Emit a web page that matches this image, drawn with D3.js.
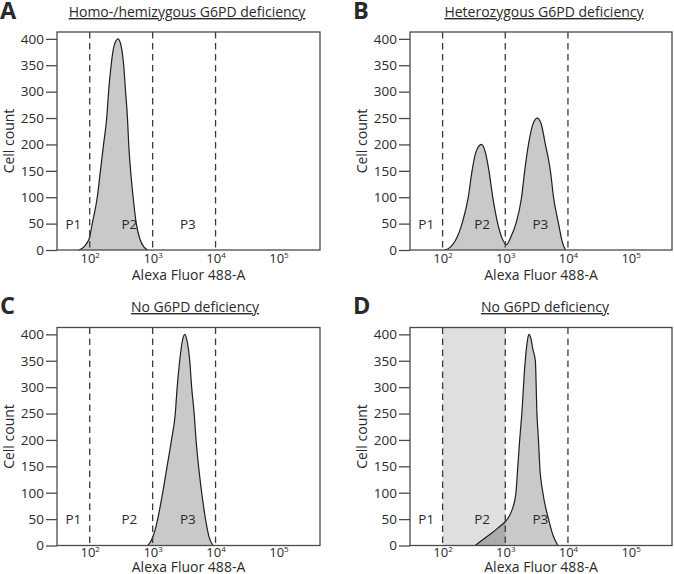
<!DOCTYPE html>
<html>
<head>
<meta charset="utf-8">
<script src="https://cdn.jsdelivr.net/npm/d3@7"></script>
<style>
  html, body { margin: 0; padding: 0; background: #fff; }
  svg { display: block; }
  text { font-family: "Open Sans", "Noto Sans", sans-serif; fill: #2a2a2a; }
</style>
</head>
<body>
<svg id="chart" width="674" height="574"></svg>
<script>
// ---------------- data ----------------
const panelLetters = ["A", "B", "C", "D"];
const panelTitles = [
  "Homo-/hemizygous G6PD deficiency",
  "Heterozygous G6PD deficiency",
  "No G6PD deficiency",
  "No G6PD deficiency"
];
const yTickValues = [0, 50, 100, 150, 200, 250, 300, 350, 400];
const xTickExponents = [2, 3, 4, 5];
const gateBoundaries = [100, 1000, 10000];
const gateLabels = ["P1", "P2", "P3"];
const gateLabelExponents = [1.74, 2.63, 3.56];
const xAxisTitle = "Alexa Fluor 488-A";
const yAxisTitle = "Cell count";

// histogram curves: [log10(fluorescence), cell count]
const curveA = [
  [1.83, 0], [1.90, 5], [1.95, 12], [2.00, 25], [2.04, 50], [2.12, 100], [2.17, 150],
  [2.22, 200], [2.27, 250], [2.30, 300], [2.34, 350], [2.39, 388], [2.45, 400],
  [2.50, 386], [2.54, 350], [2.57, 300], [2.60, 250], [2.62, 200], [2.65, 150],
  [2.69, 100], [2.74, 50], [2.80, 20], [2.86, 6], [2.92, 0]
];
const curveB = [
  [2.03, 0], [2.12, 5], [2.20, 17], [2.31, 50], [2.41, 100], [2.47, 150], [2.53, 185],
  [2.62, 200], [2.68, 186], [2.74, 150], [2.80, 100], [2.88, 50], [2.95, 22],
  [3.02, 10], [3.09, 25], [3.17, 50], [3.26, 100], [3.31, 150], [3.37, 200],
  [3.44, 238], [3.51, 250], [3.57, 240], [3.64, 200], [3.72, 150], [3.77, 100],
  [3.85, 50], [3.91, 15], [3.96, 0]
];
const curveC = [
  [2.92, 0], [2.98, 10], [3.04, 30], [3.08, 50], [3.16, 100], [3.23, 150], [3.30, 200],
  [3.36, 250], [3.39, 300], [3.43, 350], [3.47, 386], [3.51, 400], [3.55, 386],
  [3.59, 350], [3.62, 300], [3.66, 250], [3.69, 200], [3.73, 150], [3.78, 100],
  [3.84, 50], [3.90, 15], [3.96, 0]
];
const curveD = [
  [2.52, 0], [2.65, 12], [2.80, 25], [2.92, 37], [3.00, 45], [3.06, 55], [3.11, 68],
  [3.15, 85], [3.17, 100], [3.20, 150], [3.23, 200], [3.27, 260], [3.30, 320],
  [3.33, 365], [3.36, 393], [3.38, 400], [3.41, 392], [3.44, 372], [3.48, 350],
  [3.505, 250], [3.53, 200], [3.55, 150], [3.60, 100], [3.69, 50], [3.76, 20], [3.84, 0]
];
const curves = [curveA, curveB, curveC, curveD];
// panel D: highlighted gate range (P2)
const highlightRange = [100, 1000];

// ---------------- layout ----------------
const layout = [
  { left: 57,  right: 320, top: 32,    bottom: 250,   titleX: 187, titleY: 17,  xTitleDy: 29.5, tickDy: 12.5, letterX: 0,   letterY: 19 },
  { left: 410, right: 672, top: 32,    bottom: 250,   titleX: 544, titleY: 17,  xTitleDy: 29.5, tickDy: 12.5, letterX: 353, letterY: 19 },
  { left: 57,  right: 320, top: 327.5, bottom: 545.5, titleX: 195, titleY: 312, xTitleDy: 26,   tickDy: 11.5, letterX: 0,   letterY: 314 },
  { left: 410, right: 672, top: 327.5, bottom: 545.5, titleX: 545, titleY: 312, xTitleDy: 26,   tickDy: 11.5, letterX: 353, letterY: 314 }
];

const svg = d3.select("#chart");
const xDomain = [Math.pow(10, 1.48), Math.pow(10, 5.66)];
const yDomain = [0, 413];

panelLetters.forEach((letter, i) => {
  const L = layout[i];
  const x = d3.scaleLog().domain(xDomain).range([L.left, L.right]);
  const y = d3.scaleLinear().domain(yDomain).range([L.bottom, L.top]);
  const g = svg.append("g");
  const clipId = "clip" + i;
  g.append("clipPath").attr("id", clipId)
    .append("rect").attr("x", L.left).attr("y", L.top)
    .attr("width", L.right - L.left).attr("height", L.bottom - L.top);

  // highlighted band in D
  if (i === 3) {
    g.append("rect")
      .attr("x", x(highlightRange[0])).attr("y", L.top)
      .attr("width", x(highlightRange[1]) - x(highlightRange[0]))
      .attr("height", L.bottom - L.top)
      .attr("fill", "#dfdfdf");
  }

  const area = d3.area()
    .x(d => x(Math.pow(10, d[0])))
    .y0(y(0))
    .y1(d => y(d[1]))
    .curve(d3.curveMonotoneX);
  const line = d3.line()
    .x(d => x(Math.pow(10, d[0])))
    .y(d => y(d[1]))
    .curve(d3.curveMonotoneX);

  const data = curves[i];
  g.append("path").attr("d", area(data)).attr("fill", "#c9c9c9")
    .attr("clip-path", `url(#${clipId})`);

  if (i === 3) {
    const hcId = "hclip" + i;
    g.append("clipPath").attr("id", hcId)
      .append("rect").attr("x", x(highlightRange[0])).attr("y", L.top)
      .attr("width", x(highlightRange[1]) - x(highlightRange[0]))
      .attr("height", L.bottom - L.top);
    g.append("path").attr("d", area(data)).attr("fill", "#ababab")
      .attr("clip-path", `url(#${hcId})`);
  }

  g.append("path").attr("d", line(data)).attr("fill", "none")
    .attr("stroke", "#1e1e1e").attr("stroke-width", 1.2);

  // gate lines
  g.selectAll(".gate").data(gateBoundaries).enter().append("line")
    .attr("x1", d => x(d)).attr("x2", d => x(d))
    .attr("y1", L.top).attr("y2", L.bottom)
    .attr("stroke", "#3a3a3a").attr("stroke-width", 1.3)
    .attr("stroke-dasharray", "6.5,4.5");

  // gate labels
  g.selectAll(".glab").data(gateLabels).enter().append("text")
    .attr("x", (d, k) => x(Math.pow(10, gateLabelExponents[k])))
    .attr("y", y(40))
    .attr("text-anchor", "middle")
    .attr("font-size", 13.5)
    .text(d => d);

  // frame
  g.append("rect").attr("x", L.left).attr("y", L.top)
    .attr("width", L.right - L.left).attr("height", L.bottom - L.top)
    .attr("fill", "none").attr("stroke", "#4a4a4a").attr("stroke-width", 1.3);

  // y axis
  const yAxis = d3.axisLeft(y).tickValues(yTickValues).tickSize(11).tickPadding(2).tickSizeOuter(0);
  const ya = g.append("g").attr("transform", `translate(${L.left},0)`).call(yAxis);
  ya.select(".domain").remove();
  ya.selectAll(".tick line").attr("stroke", "#4a4a4a").attr("stroke-width", 1.3);
  ya.selectAll(".tick text").attr("font-size", 13.5)
    .attr("font-family", '"Open Sans", sans-serif').attr("fill", "#2a2a2a");

  // x axis (labels only)
  const xAxis = d3.axisBottom(x).tickValues(xTickExponents.map(e => Math.pow(10, e)))
    .tickSize(0).tickPadding(0).tickFormat("");
  const xa = g.append("g").attr("transform", `translate(0,${L.bottom})`).call(xAxis);
  xa.select(".domain").remove();
  xa.selectAll(".tick").each(function(d, k) {
    const t = d3.select(this).append("text")
      .attr("y", L.tickDy).attr("text-anchor", "middle")
      .attr("font-size", 13).attr("fill", "#2a2a2a");
    t.append("tspan").text("10");
    t.append("tspan").attr("dy", -5).attr("font-size", 8).text(xTickExponents[k]);
  });

  // axis titles
  g.append("text").attr("x", (L.left + L.right) / 2).attr("y", L.bottom + L.xTitleDy)
    .attr("text-anchor", "middle").attr("font-size", 14).text(xAxisTitle);
  g.append("text")
    .attr("transform", `translate(${L.left - 43},${(L.top + L.bottom) / 2}) rotate(-90)`)
    .attr("text-anchor", "middle").attr("font-size", 14).text(yAxisTitle);

  // title
  g.append("text").attr("x", L.titleX).attr("y", L.titleY)
    .attr("text-anchor", "middle").attr("font-size", 14)
    .attr("text-decoration", "underline").text(panelTitles[i]);

  // panel letter
  g.append("text").attr("x", L.letterX).attr("y", L.letterY)
    .attr("font-family", '"Liberation Sans", Arial, sans-serif')
    .attr("font-weight", "bold").attr("font-size", 23.5)
    .attr("fill", "#231f20").text(letter);
});
</script>
</body>
</html>
